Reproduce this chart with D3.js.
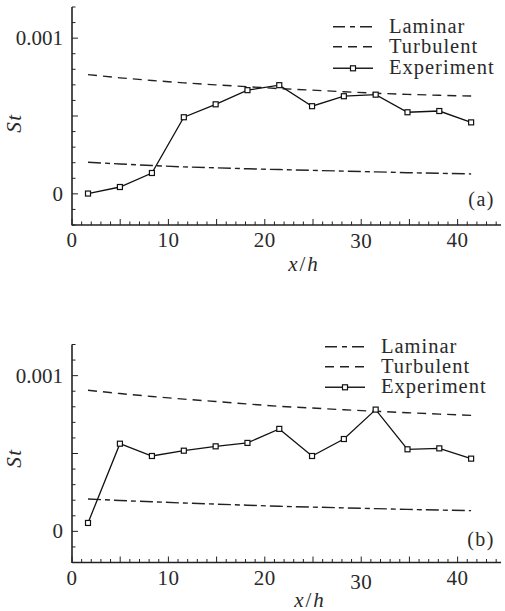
<!DOCTYPE html>
<html>
<head>
<meta charset="utf-8">
<script src="https://cdn.jsdelivr.net/npm/d3@7"></script>
</head>
<body style="margin:0">
<div id="chart"></div>
<script>
// x/h stations of the measurements
var xh = [1.66, 4.97, 8.29, 11.6, 14.9, 18.2, 21.5, 24.9, 28.2, 31.5, 34.8, 38.1, 41.4];

// panel (a)
var laminarA = [0.000203, 0.000192, 0.000182, 0.000173, 0.000167, 0.000161, 0.000156, 0.000151, 0.000146, 0.000141, 0.000136, 0.000132, 0.000128];
var turbulentA = [0.000766, 0.000745, 0.000728, 0.000713, 0.000700, 0.000688, 0.000676, 0.000666, 0.000656, 0.000646, 0.000639, 0.000633, 0.000628];
var experimentA = [0.000002, 0.000044, 0.000134, 0.000492, 0.000575, 0.000666, 0.000698, 0.000563, 0.000627, 0.000637, 0.000524, 0.000532, 0.000459];

// panel (b)
var laminarB = [0.000208, 0.000198, 0.000190, 0.000182, 0.000175, 0.000168, 0.000161, 0.000156, 0.000151, 0.000146, 0.000141, 0.000137, 0.000133];
var turbulentB = [0.000906, 0.000885, 0.000866, 0.000849, 0.000834, 0.000818, 0.000803, 0.000792, 0.000781, 0.000771, 0.000762, 0.000753, 0.000745];
var experimentB = [0.000054, 0.000563, 0.000484, 0.000518, 0.000546, 0.000568, 0.000658, 0.000484, 0.000593, 0.000782, 0.000527, 0.000533, 0.000467];

var xTickLabels = [0, 10, 20, 30, 40];
var yTickLabels = [0, 0.001];
var legendLabels = ["Laminar", "Turbulent", "Experiment"];
var panelTags = ["(a)", "(b)"];

var svg = d3.select("#chart").append("svg")
    .attr("width", 505)
    .attr("height", 611)
    .attr("font-family", "Liberation Serif")
    .style("font-family", "\"Liberation Serif\"");

function Panel(_svg, _layout, _series, _tag) {
    this.svg = _svg;
    this.layout = _layout;
    this.series = _series;
    this.tag = _tag;
    this.initVis();
}

// text helper; letter spacing makes Times come closer to the wider TeX glyphs
Panel.prototype.label = function(x, y, size, spacing) {
    return this.svg.append("text")
        .attr("x", x).attr("y", y)
        .style("font-family", "\"Liberation Serif\"")
        .style("letter-spacing", (spacing || 0) + "px")
        .attr("font-size", size)
        .attr("fill", "#2a2a2a");
};

Panel.prototype.initVis = function() {
    var vis = this;
    var L = vis.layout;

    vis.g = vis.svg.append("g");

    vis.x = d3.scaleLinear().domain([0, 44.5]).range([72, 501]);
    vis.y = d3.scaleLinear().domain([-0.0002, 0.0012]).range([L.top + 218, L.top]);

    var y0 = vis.y.range()[0];

    // minor ticks every 1 on x, every 0.0001 on y; longer ones every 5 / 0.0005
    var xt = d3.range(0, 45, 1);
    vis.g.selectAll(".xtick").data(xt).enter().append("line")
        .attr("x1", function(d) { return vis.x(d); })
        .attr("x2", function(d) { return vis.x(d); })
        .attr("y1", y0)
        .attr("y2", function(d) { return y0 - (d % 5 == 0 ? 6 : 3.5); })
        .attr("stroke", "#222").attr("stroke-width", 1);

    var yt = d3.range(-2, 13, 1);
    vis.g.selectAll(".ytick").data(yt).enter().append("line")
        .attr("x1", 72)
        .attr("x2", function(d) { return 72 + (d % 5 == 0 ? 6 : 3.5); })
        .attr("y1", function(d) { return vis.y(d * 0.0001); })
        .attr("y2", function(d) { return vis.y(d * 0.0001); })
        .attr("stroke", "#222").attr("stroke-width", 1);

    // axis lines
    vis.g.append("line")
        .attr("x1", 72).attr("x2", 72)
        .attr("y1", vis.y.range()[1]).attr("y2", y0 + 0.5)
        .attr("stroke", "#222").attr("stroke-width", 1.6);
    vis.g.append("line")
        .attr("x1", 72).attr("x2", vis.x.range()[1])
        .attr("y1", y0).attr("y2", y0)
        .attr("stroke", "#222").attr("stroke-width", 1.6);

    // tick labels
    xTickLabels.forEach(function(d) {
        vis.label(vis.x(d), y0 + 22 + (d == 30 ? L.dy30 : 0), 21, 0.5)
            .attr("text-anchor", "middle")
            .text(d);
    });

    yTickLabels.forEach(function(d) {
        vis.label(63, vis.y(d) + 7, 21)
            .attr("text-anchor", "end")
            .text(d);
    });

    // axis titles
    var xl = vis.label(L.xlabX, L.xlabY, 21, 2).attr("text-anchor", "middle");
    xl.append("tspan").style("font-style", "italic").text("x");
    xl.append("tspan").text("/");
    xl.append("tspan").style("font-style", "italic").text("h");

    vis.label(0, 0, 21, 1.5)
        .attr("transform", "translate(21," + L.ylabY + ") rotate(-90)")
        .attr("text-anchor", "middle")
        .style("font-style", "italic")
        .text("St");

    vis.label(495, L.tagY, 20, 1.5)
        .attr("text-anchor", "end")
        .text(vis.tag);

    vis.drawLines();
    vis.drawLegend();
};

Panel.prototype.drawLines = function() {
    var vis = this;

    var line = d3.line()
        .x(function(d, i) { return vis.x(xh[i]); })
        .y(function(d) { return vis.y(d); });

    vis.g.append("path")
        .attr("d", line(vis.series.laminar))
        .attr("fill", "none").attr("stroke", "#222")
        .attr("stroke-width", 1.4)
        .attr("stroke-dasharray", "13,4,5,4");

    vis.g.append("path")
        .attr("d", line(vis.series.turbulent))
        .attr("fill", "none").attr("stroke", "#222")
        .attr("stroke-width", 1.4)
        .attr("stroke-dasharray", "9,6");

    vis.g.append("path")
        .attr("d", line(vis.series.experiment))
        .attr("fill", "none").attr("stroke", "#111")
        .attr("stroke-width", 1.3);

    vis.g.selectAll(".pt").data(vis.series.experiment).enter().append("rect")
        .attr("x", function(d, i) { return vis.x(xh[i]) - 2.5; })
        .attr("y", function(d) { return vis.y(d) - 2.5; })
        .attr("width", 5).attr("height", 5)
        .attr("fill", "#fff").attr("stroke", "#111").attr("stroke-width", 1.2);
};

Panel.prototype.drawLegend = function() {
    var vis = this;
    var L = vis.layout;
    var dashes = ["12,5,5,5", "9,6", null];

    for (var i = 0; i < 3; i++) {
        var ly = L.legY[i];
        var ln = vis.g.append("line")
            .attr("x1", L.legX).attr("x2", L.legX + 40)
            .attr("y1", ly).attr("y2", ly)
            .attr("stroke", "#222").attr("stroke-width", 1.4);
        if (dashes[i]) ln.attr("stroke-dasharray", dashes[i]);
        if (i == 2) {
            vis.g.append("rect")
                .attr("x", L.legX + 20 - 2.5).attr("y", ly - 2.5)
                .attr("width", 5).attr("height", 5)
                .attr("fill", "#fff").attr("stroke", "#111").attr("stroke-width", 1.2);
        }
        vis.label(L.legX + 56, ly + 6, 20.5, 1).text(legendLabels[i]);
    }
};

var panelA = new Panel(svg, {
    top: 7, dy30: 1, xlabX: 304, xlabY: 271, ylabY: 123, tagY: 206,
    legX: 333, legY: [26.7, 46.7, 68.3]
}, {laminar: laminarA, turbulent: turbulentA, experiment: experimentA}, panelTags[0]);

var panelB = new Panel(svg, {
    top: 344.5, dy30: 4, xlabX: 310, xlabY: 607, ylabY: 458, tagY: 546,
    legX: 325, legY: [346.7, 366.7, 387.3]
}, {laminar: laminarB, turbulent: turbulentB, experiment: experimentB}, panelTags[1]);
</script>
</body>
</html>
